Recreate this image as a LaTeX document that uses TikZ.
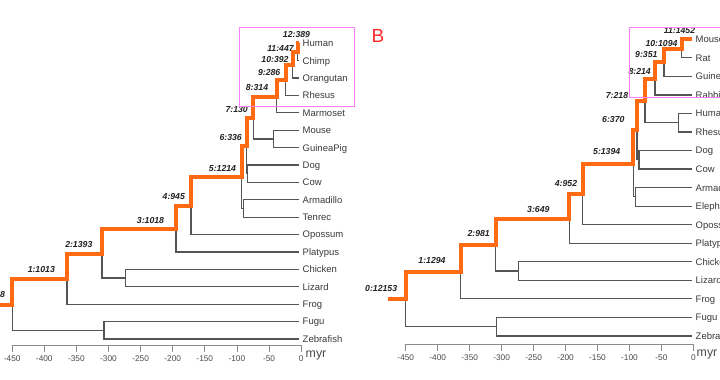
\documentclass[tikz,border=0pt]{standalone}
\usepackage{fontspec}
\setmainfont{Liberation Sans}
\definecolor{hlorange}{HTML}{FF6A13}
\definecolor{treegrey}{HTML}{555555}
\definecolor{leafc}{HTML}{3A3A3A}
\definecolor{labc}{HTML}{222222}
\definecolor{axgrey}{HTML}{8A8A8A}
\definecolor{axtext}{HTML}{4A4A4A}
\definecolor{boxpink}{HTML}{FF80FF}
\definecolor{panelred}{HTML}{FF2A2A}
\tikzset{
  br/.style={draw=treegrey, line width=1.2pt},
  hl/.style={draw=hlorange, line width=4pt},
  leaf/.style={font=\fontsize{9.5}{10}\selectfont, anchor=base west, inner sep=0pt, text=leafc, yshift=-3.4pt},
  nlab/.style={font=\fontsize{8.7}{10}\selectfont\bfseries\itshape, inner sep=0pt, text=labc},
  axline/.style={draw=axgrey, line width=0.8pt},
  axlab/.style={font=\fontsize{8.3}{10}\selectfont, inner sep=0pt, text=axtext},
  unitlab/.style={font=\fontsize{12.4}{13}\selectfont, anchor=base west, inner sep=0pt, text=axtext},
  hbox/.style={draw=boxpink, line width=0.8pt}
}
\begin{document}
\begin{tikzpicture}[x=1pt,y=-1pt]
\useasboundingbox (0,0) rectangle (720,380);
\clip (0,0) rectangle (720,380);
\fill[white] (0,0) rectangle (720,380);

% ---------------- LEFT PANEL ----------------
\foreach \n [count=\i from 0] in {Human,Chimp,Orangutan,Rhesus,Marmoset,Mouse,GuineaPig,Dog,Cow,Armadillo,Tenrec,Opossum,Platypus,Chicken,Lizard,Frog,Fugu,Zebrafish}{
  \coordinate (L\n) at ({299},{43.3+17.39*\i});
  \node[leaf] (LT\n) at ({302.5},{43.3+17.39*\i}) {\n};
}
\coordinate (LN11) at (297.5,52.0);
\coordinate (LN10) at (292.7,65.04);
\coordinate (LN9) at (285.5,80.26);
\coordinate (LN8) at (276.7,96.56);
\coordinate (LGli) at (273.3,138.95);
\coordinate (LN7) at (253.3,117.75);
\coordinate (LLau) at (247.7,173.73);
\coordinate (LN6) at (246.7,145.74);
\coordinate (LAtl) at (243.5,208.5);
\coordinate (LN5) at (241.5,177.12);
\coordinate (LN4) at (191,205.86);
\coordinate (LN3) at (176,228.92);
\coordinate (LSau) at (125.7,278.07);
\coordinate (LN2) at (102,253.5);
\coordinate (LN1) at (67,278.82);
\coordinate (LFis) at (104,330.24);
\coordinate (LRoot) at (12.3,304.53);
\coordinate (LStart) at (0,304.53);

\draw[br] (LN11) |- (LHuman) (LN11) |- (LChimp)
  (LN10) |- (LN11) (LN10) |- (LOrangutan)
  (LN9) |- (LN10) (LN9) |- (LRhesus)
  (LN8) |- (LN9) (LN8) |- (LMarmoset)
  (LGli) |- (LMouse) (LGli) |- (LGuineaPig)
  (LN7) |- (LN8) (LN7) |- (LGli)
  (LLau) |- (LDog) (LLau) |- (LCow)
  (LN6) |- (LN7) (LN6) |- (LLau)
  (LAtl) |- (LArmadillo) (LAtl) |- (LTenrec)
  (LN5) |- (LN6) (LN5) |- (LAtl)
  (LN4) |- (LN5) (LN4) |- (LOpossum)
  (LN3) |- (LN4) (LN3) |- (LPlatypus)
  (LSau) |- (LChicken) (LSau) |- (LLizard)
  (LN2) |- (LN3) (LN2) |- (LSau)
  (LN1) |- (LN2) (LN1) |- (LFrog)
  (LFis) |- (LFugu) (LFis) |- (LZebrafish)
  (LRoot) |- (LN1) (LRoot) |- (LFis);

\draw[hl] (LStart) -- (LRoot) |- (LN1) |- (LN2) |- (LN3) |- (LN4) |- (LN5) |- (LN6) |- (LN7) |- (LN8) |- (LN9) |- (LN10) |- (LN11) |- (LHuman);

\node[nlab] (la12) at (296.5,34.5) {12:389};
\node[nlab] (la11) at (280.5,48.3) {11:447};
\node[nlab] (la10) at (275,59.3) {10:392};
\node[nlab] (la9) at (269.2,73) {9:286};
\node[nlab] (la8) at (257,87.7) {8:314};
\node[nlab] (la7) at (236.7,110) {7:130};
\node[nlab] (la6) at (230.7,137.7) {6:336};
\node[nlab] (la5) at (222.5,168.3) {5:1214};
\node[nlab] (la4) at (173.8,196.7) {4:945};
\node[nlab] (la3) at (150.5,220.7) {3:1018};
\node[nlab] (la2) at (78.8,244.3) {2:1393};
\node[nlab] (la1) at (41.3,269.3) {1:1013};
\node[nlab] (la0) at (2.6,294.3) {8};

\draw[hbox] (239.3,27) rectangle (354.3,106);

% left axis
\draw[axline] (12.2,345) -- (301.1,345);
\foreach \lab [count=\k from 0] in {-450,-400,-350,-300,-250,-200,-150,-100,-50,0}{
  \draw[axline] ({12.2+32.1*\k},345) -- ({12.2+32.1*\k},352);
  \node[axlab] at ({12.2+32.1*\k},358.3) {\lab};
}
\node[unitlab] (LMyr) at (305.5,357) {myr};

% ---------------- RIGHT PANEL ----------------
\node[font=\fontsize{19}{20}\selectfont, text=panelred, inner sep=0pt] (B) at (378,36.3) {B};

\foreach \n [count=\i from 0] in {Mouse,Rat,GuineaPig,Rabbit,Human,Rhesus,Dog,Cow,Armadillo,Elephant,Opossum,Platypus,Chicken,Lizard,Frog,Fugu,Zebrafish}{
  \coordinate (R\n) at ({692},{39.3+18.54*\i});
  \node[leaf] (RT\n) at ({695.5},{39.3+18.54*\i}) {\n};
}
\coordinate (RMur) at (681.7,48.57);
\coordinate (RRod) at (664,62.48);
\coordinate (RGli) at (655,78.7);
\coordinate (RPri) at (678.3,122.73);
\coordinate (RN7) at (645,100.71);
\coordinate (RLau) at (639,159.81);
\coordinate (RN6) at (637,130.26);
\coordinate (RAtl) at (635.7,196.89);
\coordinate (RN5) at (633.3,163.58);
\coordinate (RN4) at (582.7,194.14);
\coordinate (RN3) at (569.3,218.69);
\coordinate (RSau) at (518.3,271.05);
\coordinate (RN2) at (495.7,244.87);
\coordinate (RN1) at (460.7,271.86);
\coordinate (RFis) at (496.7,326.67);
\coordinate (RRoot) at (405.7,299.27);
\coordinate (RStart) at (388,299.27);

\draw[br] (RMur) |- (RMouse) (RMur) |- (RRat)
  (RRod) |- (RMur) (RRod) |- (RGuineaPig)
  (RGli) |- (RRod) (RGli) |- (RRabbit)
  (RPri) |- (RHuman) (RPri) |- (RRhesus)
  (RN7) |- (RGli) (RN7) |- (RPri)
  (RLau) |- (RDog) (RLau) |- (RCow)
  (RN6) |- (RN7) (RN6) |- (RLau)
  (RAtl) |- (RArmadillo) (RAtl) |- (RElephant)
  (RN5) |- (RN6) (RN5) |- (RAtl)
  (RN4) |- (RN5) (RN4) |- (ROpossum)
  (RN3) |- (RN4) (RN3) |- (RPlatypus)
  (RSau) |- (RChicken) (RSau) |- (RLizard)
  (RN2) |- (RN3) (RN2) |- (RSau)
  (RN1) |- (RN2) (RN1) |- (RFrog)
  (RFis) |- (RFugu) (RFis) |- (RZebrafish)
  (RRoot) |- (RN1) (RRoot) |- (RFis);

\draw[hl] (RStart) -- (RRoot) |- (RN1) |- (RN2) |- (RN3) |- (RN4) |- (RN5) |- (RN6) |- (RN7) |- (RGli) |- (RRod) |- (RMur) |- (RMouse);

\node[nlab] (ra11) at (679.5,30.7) {11:1452};
\node[nlab] (ra10) at (661.5,43.3) {10:1094};
\node[nlab] (ra9) at (646.3,54.3) {9:351};
\node[nlab] (ra8) at (639.7,71.7) {8:214};
\node[nlab] (ra7) at (617,95.7) {7:218};
\node[nlab] (ra6) at (613.3,120) {6:370};
\node[nlab] (ra5) at (606.7,151.7) {5:1394};
\node[nlab] (ra4) at (566,184) {4:952};
\node[nlab] (ra3) at (538.3,209.3) {3:649};
\node[nlab] (ra2) at (478.7,233.3) {2:981};
\node[nlab] (ra1) at (432,261) {1:1294};
\node[nlab] (ra0) at (381.2,288.3) {0:12153};

\draw[hbox] (629,27.5) rectangle (725,97.5);

% right axis
\draw[axline] (405.8,344) -- (693.4,344);
\foreach \lab [count=\k from 0] in {-450,-400,-350,-300,-250,-200,-150,-100,-50,0}{
  \draw[axline] ({405.8+31.95*\k},344) -- ({405.8+31.95*\k},351);
  \node[axlab] at ({405.8+31.95*\k},357.3) {\lab};
}
\node[unitlab] (RMyr) at (696.5,356.5) {myr};
\end{tikzpicture}
\end{document}
